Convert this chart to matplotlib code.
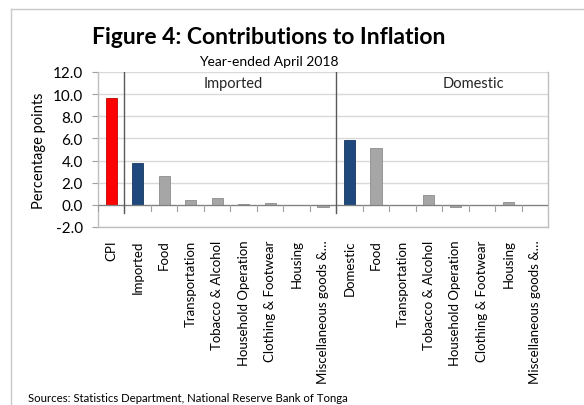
import numpy as np
import matplotlib
matplotlib.use('Agg')
import matplotlib.pyplot as plt
from matplotlib.lines import Line2D

plt.rcParams['font.family'] = ['Lato', 'DejaVu Sans']

groups = ['Food', 'Transportation', 'Tobacco & Alcohol', 'Household Operation',
          'Clothing & Footwear', 'Housing', 'Miscellaneous goods &\u2026']
labels = ['CPI', 'Imported'] + groups + ['Domestic'] + groups
cpi = [9.65]
imported = [3.82, 2.65, 0.48, 0.65, 0.05, 0.2, 0.0, -0.15]
domestic = [5.87, 5.1, 0.0, 0.93, -0.22, 0.0, 0.3, 0.0]
values = cpi + imported + domestic

RED, NAVY, GREY = '#ff0000', '#1f497d', '#a6a6a6'
colors = [RED, NAVY] + [GREY] * 7 + [NAVY] + [GREY] * 7
edges = ['#c00000', '#17375e'] + ['#8c8c8c'] * 7 + ['#17375e'] + ['#8c8c8c'] * 7

W, H = 584, 406
fig = plt.figure(figsize=(W / 100, H / 100), dpi=100)
ax = fig.add_axes([98 / W, 1 - 228 / H, 450 / W, 155 / H])

x = np.arange(len(values))
ax.bar(x, values, width=0.42, color=colors, edgecolor=edges, linewidth=0.6, zorder=3)

ax.set_xlim(-0.5, len(values) - 0.5)
ax.set_ylim(-2, 12)
yt = np.arange(-2, 12.1, 2)
ax.set_yticks(yt)
ax.set_yticklabels([f'{v:.1f}' for v in yt], fontsize=11)
ax.grid(axis='y', color='#d9d9d9', lw=1.0, zorder=0)
ax.tick_params(axis='y', length=4, color='#a0a0a0', pad=7)

# category axis at zero with boundary ticks
ax.axhline(0, color='#808080', lw=0.9, zorder=4)
for b in np.arange(-0.5, len(values), 1.0):
    ax.plot([b, b], [0, -0.55], color='#a0a0a0', lw=0.8, zorder=4)
# group separators
for b in (0.5, 8.5):
    ax.plot([b, b], [12, -0.75], color='#595959', lw=1.0, zorder=4)

ax.set_xticks(x)
ax.set_xticklabels(labels, rotation=90, fontsize=9.5)
ax.tick_params(axis='x', length=0, pad=9)

ax.spines['top'].set_visible(False)
for s in ('left', 'right', 'bottom'):
    ax.spines[s].set_color('#bfbfbf')
    ax.spines[s].set_linewidth(1.0)

ax.text(4.6, 11.0, 'Imported', ha='center', va='center', fontsize=10.5, color='#262626')
ax.text(13.7, 11.0, 'Domestic', ha='center', va='center', fontsize=10.5, color='#262626')

ax.set_ylabel('Percentage points', fontsize=10.5, labelpad=5)

fig.text(269 / W, 1 - 38 / H, 'Figure 4: Contributions to Inflation',
         ha='center', va='center', fontsize=16.5, fontweight='bold')
fig.text(269 / W, 1 - 62 / H, 'Year-ended April 2018',
         ha='center', va='center', fontsize=10)
fig.text(28 / W, 1 - 399 / H, 'Sources: Statistics Department, National Reserve Bank of Tonga',
         ha='left', va='center', fontsize=8.2)

# outer frame
fig.add_artist(Line2D([11 / W, 11 / W], [0, 1 - 10 / H], transform=fig.transFigure,
                      color='#c8c8c8', lw=1.0))
fig.add_artist(Line2D([11 / W, 1], [1 - 10 / H, 1 - 10 / H], transform=fig.transFigure,
                      color='#c8c8c8', lw=1.0))

fig.savefig('out.png', dpi=100)
